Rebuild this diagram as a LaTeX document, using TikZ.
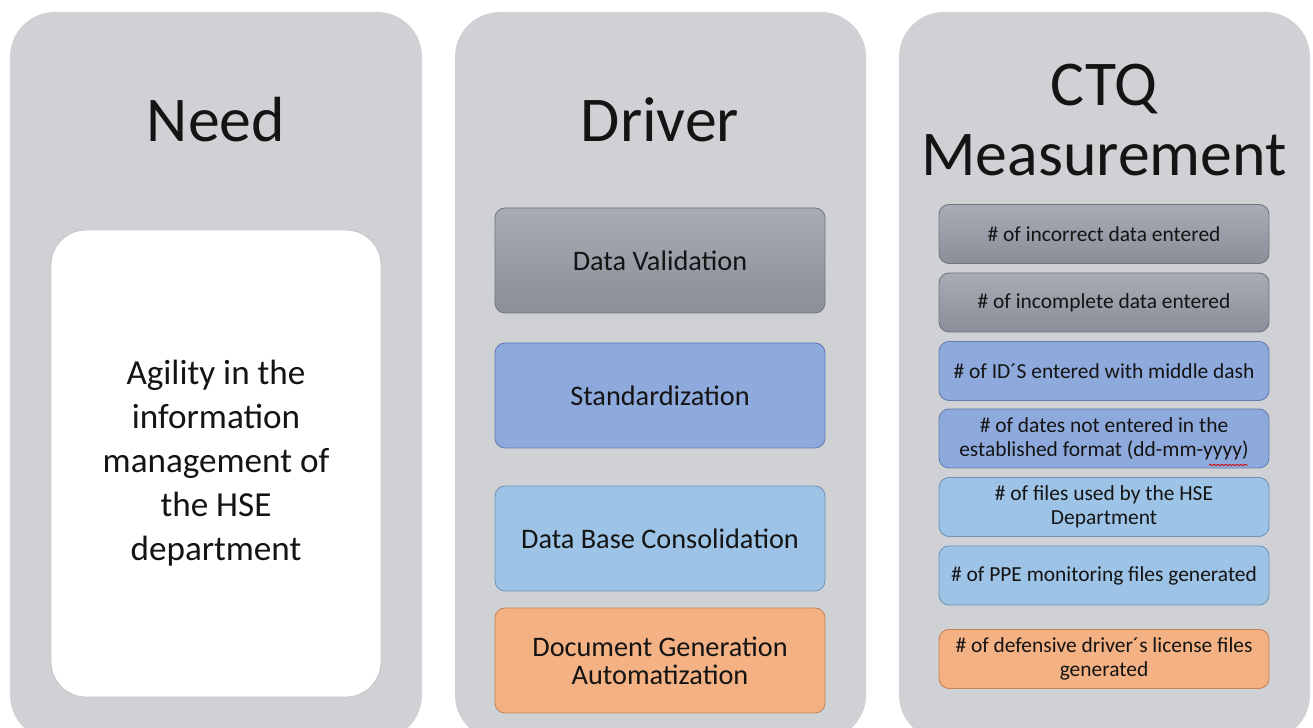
\documentclass[tikz,border=0pt]{standalone}
\usepackage{fontspec}
\setmainfont{Carlito}
\usetikzlibrary{positioning,decorations.pathmorphing}
\definecolor{panelgray}{RGB}{208,209,213}
\definecolor{ink}{RGB}{20,20,20}
\definecolor{slatetop}{RGB}{168,172,181}
\definecolor{slatebot}{RGB}{137,142,152}
\definecolor{slateline}{RGB}{112,117,127}
\definecolor{midblue}{RGB}{142,169,219}
\definecolor{midblueline}{RGB}{98,124,176}
\definecolor{skyblue}{RGB}{157,195,230}
\definecolor{skyline}{RGB}{112,146,182}
\definecolor{peach}{RGB}{244,177,131}
\definecolor{peachline}{RGB}{196,130,88}

\begin{document}
\begin{tikzpicture}[
  x=1cm,y=1cm,
  panel/.style={rounded corners=.9cm,fill=panelgray},
  title/.style={text=ink,align=center,font=\fontsize{36.3}{39.7}\selectfont},
  needbox/.style={draw=black!22,fill=white,rounded corners=.7cm,line width=.5pt,
                  minimum width=6.60cm,minimum height=9.34cm,align=center,
                  text=ink,font=\fontsize{20}{25}\selectfont},
  box/.style={rounded corners=.2cm,line width=.5pt,minimum width=6.60cm,
              align=center,text=ink,inner sep=2pt},
  drv/.style={box,minimum height=2.10cm,font=\fontsize{16.1}{15.9}\selectfont},
  ctq/.style={box,minimum height=1.18cm,font=\fontsize{12.2}{13.6}\selectfont},
  slate/.style={draw=slateline,top color=slatetop,bottom color=slatebot},
  blu/.style={draw=midblueline,fill=midblue},
  sky/.style={draw=skyline,fill=skyblue},
  pch/.style={draw=peachline,fill=peach}
]
\useasboundingbox (0,0) rectangle (26.26,14.56);
\clip (0,0) rectangle (26.26,14.56);

% Three columns.
\foreach \xl/\xr in {.20/8.44,9.10/17.32,17.98/26.20}{
  \fill[panel] (\xl,-.24) rectangle (\xr,14.32);
}

% Column: need.
\node[title] (needttl) at (4.32,12.16) {Need};
\node[needbox] (agility) at (4.32,5.29)
  {Agility in the\\information\\management of\\the HSE\\department};

% Column: drivers.
\node[title] (drvttl) at (13.20,12.16) {Driver};
\node[drv,slate] (dval)   at (13.20,9.35) {Data Validation};
\node[drv,blu]   (stdz)   at (13.20,6.65) {Standardization};
\node[drv,sky]   (dbase)  at (13.20,3.79) {Data Base Consolidation};
\node[drv,pch]   (docgen) at (13.20,1.35) {Document Generation\\Automatization};

% Column: CTQ measurements.
\node[title] (ctqttl) at (22.08,12.16) {CTQ\\Measurement};
\node[ctq,slate] (incorr)   at (22.08,9.88) {\# of incorrect data entered};
\node[ctq,slate] (incompl)  at (22.08,8.51) {\# of incomplete data entered};
\node[ctq,blu]   (iddash)   at (22.08,7.14) {\# of ID´S entered with middle dash};
\node[ctq,blu]   (datefmt)  at (22.08,5.79)
  {\# of dates not entered in the\\established format (dd-mm-yyyy)};
\node[ctq,sky]   (hsefiles) at (22.08,4.42) {\# of files used by the HSE\\Department};
\node[ctq,sky]   (ppefiles) at (22.08,3.05) {\# of PPE monitoring files generated};
\node[ctq,pch]   (licfiles) at (22.08,1.38)
  {\# of defensive driver´s license files\\generated};

% Spell-check mark under the year.
\draw[red!85!black,line width=.5pt,
      decorate,decoration={snake,amplitude=.3pt,segment length=2.2pt}]
  (24.18,5.26)--(24.96,5.26);

\end{tikzpicture}
\end{document}
